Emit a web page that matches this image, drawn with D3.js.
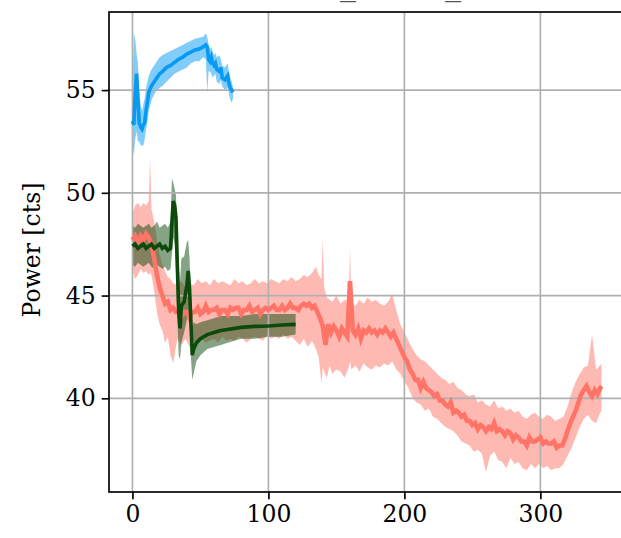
<!DOCTYPE html>
<html><head><meta charset="utf-8">
<script src="https://cdn.jsdelivr.net/npm/d3@7"></script>
<style>body{margin:0;background:#fff} svg{display:block}</style>
</head><body>
<svg id="c" width="621" height="538"></svg>
<script>
// ---------------- data ----------------
// red run: band (min / max envelope)
const redBandX = [0,2,4,6,8,10,12,13,14,16,18,20,22,24,26,28,30,33,36,39,42,45,48,51,54,57,60,63,66,69,72,75,78,81,84,87,90,93,96,99,102,105,108,111,114,117,120,123,126,129,132,135,137,139,140,141,143,145,147,150,153,156,159,160,161,164,167,170,173,176,179,182,185,188,191,194,197,200,203,206,209,212,215,218,221,224,227,230,233,236,239,242,245,248,251,254,257,260,263,266,269,272,275,278,281,284,287,290,293,296,299,302,305,308,311,314,317,320,323,326,329,332,335,338,341,344,345];
const redLo   = [46.2,45.8,46.0,46.3,46.1,46.2,46.0,46.1,46.0,45.2,44.2,43.6,43.3,42.7,43.0,42.1,41.7,42.9,42.6,42.9,42.5,42.8,42.6,42.9,42.7,42.8,42.9,42.7,43.0,42.8,42.9,42.8,43.0,42.9,42.7,42.9,43.0,42.9,42.8,43.1,42.9,43.0,42.9,43.1,42.9,43.0,42.8,42.6,42.9,42.5,42.8,42.4,42.0,40.7,41.5,41.3,41.0,41.6,41.2,41.4,41.3,41.0,41.5,41.8,41.4,41.6,41.3,41.7,41.5,41.4,41.6,41.5,41.7,41.6,41.8,41.4,41.2,40.8,40.5,40.0,39.8,39.7,39.4,39.5,39.1,39.0,38.8,38.6,38.5,38.4,38.2,37.9,37.8,37.7,37.4,37.5,37.3,36.4,37.2,37.4,37.0,36.9,36.6,37.1,36.8,36.9,36.6,36.5,36.8,36.6,36.8,36.6,36.7,36.5,36.6,36.6,36.8,37.2,37.6,38.1,38.6,39.0,39.2,38.9,38.8,39.3,39.4];
const redHi   = [49.0,49.4,49.5,49.3,49.5,49.4,49.6,51.7,49.2,48.6,47.7,47.0,46.5,46.2,45.9,45.8,45.6,45.5,45.7,45.4,45.6,45.5,45.8,45.6,45.7,45.5,45.8,45.6,45.7,45.6,45.5,45.8,45.6,45.7,45.5,45.6,45.8,45.6,45.7,45.6,45.8,45.7,45.6,45.8,45.7,45.9,45.7,45.8,46.0,45.9,46.1,46.4,46.0,45.8,47.8,45.4,44.9,44.8,44.7,45.0,44.6,44.8,44.7,47.3,44.6,44.5,44.8,44.6,44.9,44.7,44.8,44.6,44.5,44.7,45.1,44.3,43.6,43.2,42.8,42.4,42.1,41.9,41.8,41.6,41.4,41.2,41.0,40.9,40.7,40.8,40.5,40.4,40.2,40.1,40.2,39.8,39.9,39.7,39.6,39.9,39.5,39.6,39.4,39.5,39.3,39.4,39.1,39.0,39.2,39.3,39.1,39.0,39.2,39.1,38.9,39.0,39.1,39.6,40.3,40.8,41.2,41.5,41.6,43.1,41.4,41.6,41.7];
// red run: mean line
const redX = [0,2,4,6,8,10,12,14,16,18,20,22,24,26,28,30,32,34,36,38,40,42,44,46,48,50,52,54,56,58,60,62,64,66,68,70,72,74,76,78,80,82,84,86,88,90,92,94,96,98,100,102,104,106,108,110,112,114,116,118,120,122,124,126,128,130,132,134,136,138,140,142,144,146,148,150,152,154,156,158,160,162,164,166,168,170,172,174,176,178,180,182,184,186,188,190,192,194,196,198,200,202,204,206,208,210,212,214,216,218,220,222,224,226,228,230,232,234,236,238,240,242,244,246,248,250,252,254,256,258,260,262,264,266,268,270,272,274,276,278,280,282,284,286,288,290,292,294,296,298,300,302,304,306,308,310,312,314,316,318,320,322,324,326,328,330,332,334,336,338,340,342,344,345];
const redMean = [47.7,47.9,47.6,47.9,47.7,48.0,47.8,47.5,46.8,46.0,45.4,45.0,44.6,44.7,44.3,44.4,44.2,44.2,44.0,44.2,44.2,43.9,44.2,44.2,44.4,44.1,44.2,44.5,44.2,44.3,44.3,44.4,44.1,44.3,44.3,44.1,44.4,44.3,44.4,44.4,44.1,44.3,44.3,44.5,44.2,44.3,44.4,44.1,44.3,44.4,44.3,44.4,44.5,44.3,44.3,44.5,44.3,44.4,44.6,44.4,44.4,44.3,44.5,44.6,44.5,44.6,44.4,44.5,44.2,43.9,43.5,42.6,43.6,43.2,43.5,43.3,43.0,43.4,43.2,43.0,45.7,43.3,43.1,43.4,42.9,43.3,43.2,43.4,43.2,43.3,43.1,43.3,43.2,43.4,43.2,43.0,43.2,42.9,42.6,42.3,42.0,41.8,41.4,41.2,40.9,40.9,40.5,40.8,40.5,40.4,40.3,40.1,40.2,39.9,39.9,39.7,39.6,39.8,39.3,39.4,39.3,39.1,39.2,38.9,38.9,38.7,38.8,38.5,38.7,38.6,38.4,38.6,38.5,38.8,38.4,38.5,38.4,38.2,38.4,38.3,38.0,38.2,38.1,37.9,37.9,37.7,38.1,37.9,37.9,38.0,38.1,37.8,37.9,37.8,37.8,37.9,37.6,37.7,37.7,38.0,38.4,38.8,39.1,39.4,39.8,40.2,40.4,40.6,40.3,40.1,40.4,40.2,40.5,40.6];

const greenX    = [0,2,4,6,8,10,12,14,16,18,20,22,24,26,28,29,30,31,32,33,34,35,36,38,40,41,42,43,44,45,47,50,55,60,65,70,80,90,100,110,120];
const greenMean = [47.4,47.5,47.3,47.4,47.5,47.3,47.4,47.5,47.3,47.4,47.5,47.3,47.4,47.2,47.3,48.5,49.6,49.4,48.8,46.5,44.2,43.4,44.5,44.7,45.5,46.2,45.3,43.7,42.1,42.4,42.7,42.9,43.1,43.2,43.3,43.35,43.45,43.5,43.52,43.57,43.6];
const greenLo   = [46.5,46.4,46.6,46.5,46.4,46.5,46.6,46.4,46.3,46.5,46.4,46.3,46.4,46.2,46.3,47.0,47.8,47.5,46.2,44.0,42.1,41.9,42.7,43.2,43.8,44.2,43.8,42.0,40.9,41.2,41.8,42.1,42.4,42.5,42.6,42.7,42.9,42.9,43.0,43.0,43.1];
const greenHi   = [48.4,48.3,48.5,48.4,48.3,48.4,48.5,48.3,48.4,48.6,48.3,48.4,48.5,48.3,48.6,50.7,50.5,50.2,49.9,48.0,46.5,45.7,46.8,46.9,47.6,47.7,46.8,45.2,43.4,43.7,43.6,43.7,43.8,43.9,44.0,44.0,44.0,44.1,44.1,44.1,44.1];

const blueX    = [0,1,2,3,4,5,6,7,8,9,10,11,12,14,16,18,20,22,25,28,31,34,37,40,43,46,49,52,54,55,56,57,58,59,60,61,62,64,65,66,68,70,71,72,73,74];
const blueMean = [53.5,53.3,54.8,55.8,54.5,53.4,53.2,53.1,53.3,53.4,54.0,54.4,54.9,55.2,55.4,55.6,55.8,55.9,56.1,56.2,56.35,56.5,56.6,56.75,56.85,56.95,57.0,57.1,57.2,57.1,56.5,56.4,56.6,56.3,56.2,56.3,56.0,55.9,56.1,55.6,55.5,55.7,55.3,55.1,55.0,54.9];
const blueLo   = [52.4,51.8,52.6,53.0,52.5,52.5,52.3,52.3,52.3,52.6,53.1,53.5,54.0,54.5,54.8,55.0,55.1,55.2,55.4,55.6,55.8,55.9,56.0,56.1,56.3,56.4,56.4,56.6,56.5,54.9,55.9,55.9,55.8,55.6,55.7,55.8,55.4,55.3,55.5,55.2,55.0,55.1,54.8,54.5,54.4,54.6];
const blueHi   = [54.8,57.8,57.5,56.8,56.3,55.0,54.3,54.0,54.3,54.6,55.1,55.4,55.7,56.0,56.2,56.4,56.6,56.7,56.8,56.9,57.0,57.1,57.2,57.3,57.4,57.5,57.55,57.6,57.75,57.6,57.2,57.0,57.1,56.9,56.7,56.8,56.6,56.7,56.5,56.2,56.1,56.3,55.9,55.6,55.4,55.1];

const xTicks = [0, 100, 200, 300];
const yTicks = [40, 45, 50, 55];
const yLabelText = "Power [cts]";
const titleText = "laser_trend_all";

// ---------------- layout ----------------
const svg = d3.select("#c");
const L = 109, R = 625, T = 12, B = 492;
const x = d3.scaleLinear().domain([-17.25, 362.25]).range([L, R]);
const y = d3.scaleLinear().domain([35.44, 58.8]).range([B, T]);
const font = "'DejaVu Serif', serif";
const fsz = "23.5px";
const lw = 1.67;

svg.append("defs").append("clipPath").attr("id","clip")
  .append("rect").attr("x",L).attr("y",T).attr("width",R-L).attr("height",B-T);

const series = [
  {bx:redBandX, lo:redLo, hi:redHi, x:redX, m:redMean, color:"#ff7467", w:4.6},
  {bx:greenX, lo:greenLo, hi:greenHi, x:greenX, m:greenMean, color:"#0b4a0b", w:3.6},
  {bx:blueX, lo:blueLo, hi:blueHi, x:blueX, m:blueMean, color:"#069af3", w:3.6}
];

const plot = svg.append("g").attr("clip-path","url(#clip)");
// bands
series.forEach(s => {
  const pts = s.bx.map((v,i)=>({x:v, lo:s.lo[i], hi:s.hi[i]}));
  plot.append("path").datum(pts)
    .attr("d", d3.area().x(d=>x(d.x)).y0(d=>y(d.lo)).y1(d=>y(d.hi)))
    .attr("fill", s.color).attr("fill-opacity", 0.5).attr("stroke","none");
});
// grid (above bands, below lines)
const grid = svg.append("g").attr("stroke","#b0b0b0").attr("stroke-width",lw);
xTicks.forEach(t => grid.append("line").attr("x1",x(t)).attr("x2",x(t)).attr("y1",T).attr("y2",B));
yTicks.forEach(t => grid.append("line").attr("x1",L).attr("x2",R).attr("y1",y(t)).attr("y2",y(t)));
// lines
const lines = svg.append("g").attr("clip-path","url(#clip)");
series.forEach(s => {
  const pts = s.x.map((v,i)=>({x:v, m:s.m[i]}));
  lines.append("path").datum(pts)
    .attr("d", d3.line().x(d=>x(d.x)).y(d=>y(d.m)))
    .attr("fill","none").attr("stroke", s.color).attr("stroke-width", s.w)
    .attr("stroke-linejoin","miter");
});

// axes
const xAxis = svg.append("g").attr("transform",`translate(0,${B})`)
  .call(d3.axisBottom(x).tickValues(xTicks).tickSize(7.3).tickPadding(6).tickFormat(d3.format("d")));
const yAxis = svg.append("g").attr("transform",`translate(${L},0)`)
  .call(d3.axisLeft(y).tickValues(yTicks).tickSize(7.3).tickPadding(6).tickFormat(d3.format("d")));
[xAxis, yAxis].forEach(a => {
  a.select(".domain").remove();
  a.selectAll(".tick line").attr("stroke","#000").attr("stroke-width",lw);
  a.selectAll(".tick text").attr("font-family",font).attr("font-size",fsz).attr("fill","#000");
});
// spines
svg.append("rect").attr("x",L).attr("y",T).attr("width",R-L).attr("height",B-T)
  .attr("stroke","#000").attr("stroke-width",lw).attr("fill","none");

// y label
svg.append("text").attr("transform",`translate(32,250) rotate(-90)`)
  .attr("text-anchor","middle").attr("dominant-baseline","central")
  .attr("font-family",font).attr("font-size",fsz).text(yLabelText);

// title (mostly above the visible area, only underscores show)
const title = svg.append("text").attr("font-family",font).attr("fill","#555")
  .attr("x",0).attr("y",-5.5).attr("font-size","33px").text(titleText);
const i1 = titleText.indexOf("_"), i2 = titleText.indexOf("_", i1+1);
const n = title.node();
const gap = n.getStartPositionOfChar(i2).x - n.getStartPositionOfChar(i1).x;
title.attr("font-size", (33 * 105 / gap) + "px");
title.attr("x", 340 - n.getStartPositionOfChar(i1).x);
</script>
</body></html>
